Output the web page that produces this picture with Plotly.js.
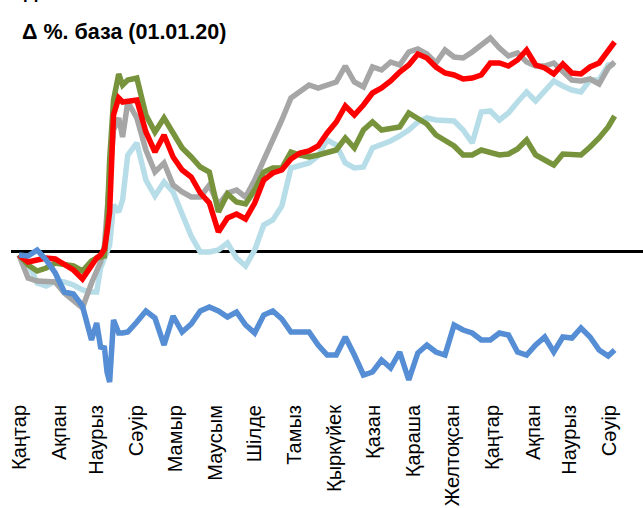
<!DOCTYPE html>
<html>
<head>
<meta charset="utf-8">
<script src="https://cdn.plot.ly/plotly-3.0.1.min.js"></script>
<style>html,body{margin:0;padding:0;background:#fff;}#chart{width:643px;height:508px;}</style>
</head>
<body>
<div id="chart"></div>
<script>
const dates = ["2020-01-01","2020-01-08","2020-01-15","2020-01-22","2020-01-29","2020-02-05","2020-02-12","2020-02-19","2020-02-26",
"2020-03-01","2020-03-04","2020-03-07","2020-03-09","2020-03-11","2020-03-14","2020-03-18","2020-03-21","2020-03-25",
"2020-04-01","2020-04-08","2020-04-15","2020-04-22","2020-04-29","2020-05-06","2020-05-13","2020-05-20","2020-05-27",
"2020-06-03","2020-06-10","2020-06-17","2020-06-24","2020-07-01","2020-07-08","2020-07-15","2020-07-22","2020-07-29",
"2020-08-05","2020-08-12","2020-08-19","2020-08-26","2020-09-02","2020-09-09","2020-09-16","2020-09-23","2020-09-30",
"2020-10-07","2020-10-14","2020-10-21","2020-10-28","2020-11-04","2020-11-11","2020-11-18","2020-11-25","2020-12-02",
"2020-12-09","2020-12-16","2020-12-23","2020-12-30","2021-01-06","2021-01-13","2021-01-20","2021-01-27","2021-02-03",
"2021-02-10","2021-02-17","2021-02-24","2021-03-03","2021-03-10","2021-03-17","2021-03-24","2021-03-31","2021-04-05"];

const redSeries = [-0.4,-1.1,-0.9,-0.7,-0.8,-1.4,-1.9,-2.8,-1.5,-0.7,-0.4,0.2,1.9,3.9,13.6,15.3,14.9,15.0,
15.1,11.9,9.9,11.6,9.4,8.1,7.4,5.8,4.8,1.9,3.3,3.7,3.2,4.8,7.1,7.8,8.1,9.2,
9.8,10.0,10.5,11.8,12.9,14.5,13.6,14.6,15.8,16.3,17.0,17.9,18.6,19.7,19.3,18.4,17.8,17.6,
17.2,17.3,17.6,18.8,18.8,18.5,19.1,20.1,18.6,18.3,17.7,18.7,17.8,17.7,18.4,18.8,20.1,20.9];

const graySeries = [-0.4,-2.7,-3.0,-3.1,-3.1,-4.2,-5.0,-5.7,-3.2,-1.9,-1.1,0.6,4.1,7.1,12.1,13.3,11.4,14.9,
13.3,10.1,7.9,8.8,6.6,5.9,5.4,5.4,6.6,4.6,5.8,6.1,5.4,7.1,9.1,10.8,13.1,15.3,
15.9,16.6,16.3,16.6,16.9,18.5,16.9,16.4,18.4,18.1,18.9,18.6,19.9,20.2,19.7,18.8,20.1,19.4,
19.3,19.9,20.6,21.3,20.3,19.5,19.8,18.9,18.5,18.5,18.8,17.9,17.1,17.0,17.2,16.7,18.3,18.9];

const greenSeries = [-0.4,-1.4,-2.0,-1.7,-1.2,-1.3,-1.5,-2.0,-1.0,-0.7,-0.6,-0.5,2.6,9.1,15.1,17.7,16.6,17.1,
17.3,13.6,11.9,13.3,11.8,10.3,9.4,8.4,7.9,3.9,5.7,4.9,4.7,6.1,7.9,8.3,8.3,9.9,
9.6,9.4,9.6,9.9,10.1,11.3,10.3,12.1,12.9,12.1,12.3,12.4,13.8,13.2,12.7,11.6,11.0,10.5,
9.6,9.6,10.1,9.9,9.6,9.7,10.2,11.1,9.6,9.1,8.6,9.7,9.6,9.6,10.4,11.3,12.4,13.5];

const lightBlueSeries = [-0.4,-1.2,-3.2,-3.5,-3.0,-3.1,-3.4,-3.9,-4.1,-4.1,-1.7,-0.7,-0.4,0.6,4.6,3.9,5.1,9.6,
10.8,7.1,5.5,6.9,5.9,3.7,1.5,-0.1,-0.1,0.1,0.8,-0.7,-1.5,0.1,2.6,3.1,4.5,8.3,
8.5,8.8,9.5,11.1,10.6,8.8,8.3,8.4,10.3,10.6,11.0,11.5,12.1,12.9,13.3,13.1,13.1,13.0,
12.1,10.8,13.9,14.0,13.1,13.8,14.9,15.9,15.0,16.1,17.0,16.5,16.1,15.9,17.1,17.1,18.6,18.7];

const blueSeries = [-0.4,-0.5,0.1,-0.9,-2.2,-4.1,-4.3,-5.5,-8.9,-7.2,-9.6,-9.7,-12.1,-13.1,-6.9,-8.2,-8.2,-8.1,
-7.1,-6.0,-6.7,-9.4,-6.5,-8.1,-7.3,-6.0,-5.6,-6.0,-6.6,-6.1,-7.4,-8.2,-6.4,-6.0,-6.8,-8.1,
-8.1,-8.1,-9.4,-10.4,-10.4,-8.6,-10.4,-12.4,-12.1,-10.9,-11.7,-10.1,-12.9,-10.2,-9.4,-10.1,-10.4,-7.4,
-7.9,-8.2,-8.9,-8.9,-8.2,-8.4,-10.1,-10.4,-9.4,-8.6,-10.1,-8.6,-8.7,-7.7,-8.6,-9.9,-10.5,-9.9];

const tickDates = ["2020-01-01","2020-02-01","2020-03-01","2020-04-01","2020-05-01","2020-06-01","2020-07-01","2020-08-01",
"2020-09-01","2020-10-01","2020-11-01","2020-12-01","2021-01-01","2021-02-01","2021-03-01","2021-04-01"];
const tickLabels = ["Қаңтар","Ақпан","Наурыз","Сәуір","Мамыр","Маусым","Шілде","Тамыз","Қыркүйек","Қазан","Қараша","Желтоқсан","Қаңтар","Ақпан","Наурыз","Сәуір"];

const W = 5.5;
function tr(y, color){ return {x: dates, y: y, type: 'scatter', mode: 'lines', line: {color: color, width: W}, hoverinfo: 'skip'}; }
const data = [
  tr(lightBlueSeries, '#B7DEE8'),
  tr(graySeries, '#A6A6A6'),
  tr(greenSeries, '#77933C'),
  tr(redSeries, '#FF0000'),
  tr(blueSeries, '#558ED5')
];

const FONT = 'Liberation Sans, Arial, sans-serif';
const layout = {
  width: 643, height: 508,
  margin: {l: 11, r: 0, t: 30, b: 108, pad: 0},
  paper_bgcolor: '#fff', plot_bgcolor: '#fff',
  showlegend: false,
  font: {family: FONT, color: '#000'},
  title: {text: '<b>Δ %. база (01.01.20)</b>', x: 22/643, xanchor: 'left', xref: 'container', y: 1 - 24/508, yanchor: 'top', yref: 'container',
          font: {family: FONT, size: 21.5, color: '#000'}},
  xaxis: {type: 'date', range: ['2019-12-25 19:40', '2021-04-26 21:36'], showgrid: false, zeroline: false, showline: false,
          ticks: '', tickvals: tickDates, ticktext: tickLabels, tickangle: -90,
          tickfont: {family: FONT, size: 20, color: '#000'}},
  yaxis: {range: [-14.9, 22.1], showgrid: false, showticklabels: false, ticks: '', showline: false,
          zeroline: true, zerolinecolor: '#000', zerolinewidth: 3},
  annotations: [{text: '<b>Д</b>', xref: 'paper', yref: 'paper', x: 11/632, y: 1 + 26/370, xanchor: 'left', yanchor: 'bottom',
                 showarrow: false, font: {family: FONT, size: 19, color: '#000'}}]
};
Plotly.newPlot('chart', data, layout, {displayModeBar: false, staticPlot: true});
</script>
</body>
</html>
